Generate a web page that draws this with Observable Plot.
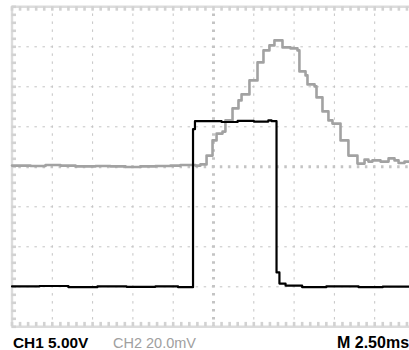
<!DOCTYPE html>
<html><head><meta charset="utf-8">
<script src="https://cdn.jsdelivr.net/npm/d3@7"></script>
<script src="https://cdn.jsdelivr.net/npm/@observablehq/plot@0.6"></script>
<style>
html,body{margin:0;padding:0;background:#fff;overflow:hidden;width:409px;height:350px;}
#wrap{position:relative;width:409px;height:350px;overflow:hidden;}
#wrap svg{position:absolute;left:0;top:0;}
.lab{position:absolute;font-family:"Liberation Sans",Arial,sans-serif;line-height:16px;white-space:nowrap;}
</style></head><body><div id="wrap"></div>
<script>
// Horizontal time base and channel settings (per division)
const timePerDiv = 2.5;       // ms/div
const ch1VoltsPerDiv = 5.0;   // V/div
const ch2mVPerDiv = 20.0;     // mV/div
const ch1GroundDiv = -3;      // CH1 ground marker position (divisions)
const ch2GroundDiv = 0;       // CH2 ground marker position (divisions)

// CH1 trace (ms, V)
const ch1Time  = [-12.5, -10.8, -9.0, -7.2, -5.4, -3.6, -2.2, -1.27, -1.15, 0.5, 1.5, 2.5, 3.4, 3.6, 3.91, 4.09, 4.47, 5.5, 7.0, 9.0, 10.5, 12.5];
const ch1Volts = [0.05, 0.1, -0.05, 0.05, 0.0, 0.06, -0.05, 19.7, 20.7, 20.6, 20.75, 20.65, 20.8, 20.7, 1.8, 0.4, 0.15, -0.05, 0.05, -0.05, 0.02, 0.0];

// CH2 trace (ms, mV)
const ch2Time = [-12.5, -11.35, -10.42, -9.49, -8.56, -7.32, -6.39, -5.46, -4.53, -3.60, -2.67, -2.05, -1.12, -0.81, -0.43, -0.06, 0.19, 0.56, 0.74, 1.18, 1.55, 1.74, 2.23, 2.73, 3.10, 3.47, 3.78, 4.28, 4.78, 5.21, 5.33, 5.71, 5.83, 6.27, 6.39, 6.76, 7.13, 7.38, 7.88, 8.37, 8.93, 9.37, 9.61, 9.86, 10.36, 10.86, 11.23, 11.48, 11.85, 12.5];
const ch2mV   = [0.6, 0.4, 0.9, 0.6, 0.2, 0.4, 0.2, -0.1, 0.2, 0.4, 0.6, 0.9, 0.6, 1.2, 5.6, 13.2, 16.6, 17.6, 23.2, 29.2, 33.2, 36.2, 43.2, 52.2, 58.2, 60.7, 63.2, 59.7, 59.2, 58.2, 47.7, 45.7, 41.2, 40.2, 34.7, 27.7, 23.2, 21.6, 13.2, 5.6, 1.6, 3.6, 2.6, 3.2, 2.6, 4.2, 3.2, 1.9, 2.6, 2.6];

// Readout labels
const readoutText = ["CH1 5.00V", "CH2 20.0mV", "M 2.50ms"];

// Graticule: 10 x 8 divisions, minor marks every 0.2 div
const hDivs = 10, vDivs = 8;
const xMin = -hDivs / 2 * timePerDiv, xMax = hDivs / 2 * timePerDiv;
const gridX = d3.range(-4, 5).map(i => i * timePerDiv).filter(v => v !== 0);
const gridY = d3.range(-3, 4).filter(v => v !== 0);
const minorX = d3.range(0, hDivs * 5 + 1).map(i => xMin + i * timePerDiv / 5);
const minorY = d3.range(0, vDivs * 5 + 1).map(i => -vDivs / 2 + i / 5);

const ch1 = ch1Time.map((t, i) => ({t, v: ch1Volts[i]}));
const ch2 = ch2Time.map((t, i) => ({t, v: ch2mV[i]}));

const gridColor = "#c4c4c4";
const frameColor = "#dcdcdc";

const chart = Plot.plot({
  width: 409,
  height: 350,
  marginLeft: 0, marginRight: 0, marginTop: 0, marginBottom: 0,
  x: {domain: [xMin, xMax], range: [11.5, 414.5], axis: null},
  y: {domain: [-vDivs / 2, vDivs / 2], range: [326.3, 6.3], axis: null},
  marks: [
    // dotted grid
    Plot.ruleX(gridX, {y1: -4, y2: 4, stroke: gridColor, strokeWidth: 1, strokeDasharray: "2.5,5.49", strokeDashoffset: 1.25}),
    Plot.ruleY(gridY, {x1: xMin, x2: xMax, stroke: gridColor, strokeWidth: 1, strokeDasharray: "2.5,5.56", strokeDashoffset: 1.25}),
    // center cross with minor ticks
    Plot.ruleX([0], {y1: -4, y2: 4, stroke: gridColor, strokeWidth: 3, strokeDasharray: "2.5,5.49", strokeDashoffset: 1.25}),
    Plot.ruleY([0], {x1: xMin, x2: xMax, stroke: gridColor, strokeWidth: 3, strokeDasharray: "2.5,5.56", strokeDashoffset: 1.25}),
    // frame
    Plot.ruleY([-4, 4], {x1: xMin, x2: xMax, stroke: frameColor, strokeWidth: 2.4}),
    Plot.ruleX([xMin], {y1: -4, y2: 4, stroke: frameColor, strokeWidth: 2.4}),
    // frame minor ticks
    Plot.ruleX(minorX, {y1: 4, y2: 4 - 0.11, stroke: "#d2d2d2", strokeWidth: 2.6}),
    Plot.ruleX(minorX, {y1: -4, y2: -4 + 0.11, stroke: "#d2d2d2", strokeWidth: 2.6}),
    Plot.ruleY(minorY, {x1: xMin, x2: xMin + 0.28, stroke: "#d2d2d2", strokeWidth: 2.6}),
    // traces
    Plot.line(ch2, {x: "t", y: d => d.v / ch2mVPerDiv + ch2GroundDiv, curve: "step-after", stroke: "#a2a2a2", strokeWidth: 2.6}),
    Plot.line(ch1, {x: "t", y: d => d.v / ch1VoltsPerDiv + ch1GroundDiv, curve: "step-after", stroke: "#000", strokeWidth: 2.2})
  ]
});
const wrap = document.getElementById("wrap");
wrap.appendChild(chart);

const labStyles = [
  {left: 13, top: 334.7, size: 15.4, color: "#000", weight: "bold"},
  {left: 113, top: 335, size: 14.5, color: "#a0a0a0", weight: "normal"},
  {left: 337, top: 334.5, size: 16, color: "#000", weight: "bold"}
];
readoutText.forEach((txt, i) => {
  const s = document.createElement("div");
  s.className = "lab";
  s.textContent = txt;
  s.style.left = labStyles[i].left + "px";
  s.style.top = labStyles[i].top + "px";
  s.style.fontSize = labStyles[i].size + "px";
  s.style.color = labStyles[i].color;
  s.style.fontWeight = labStyles[i].weight;
  wrap.appendChild(s);
});
</script>
</body></html>
